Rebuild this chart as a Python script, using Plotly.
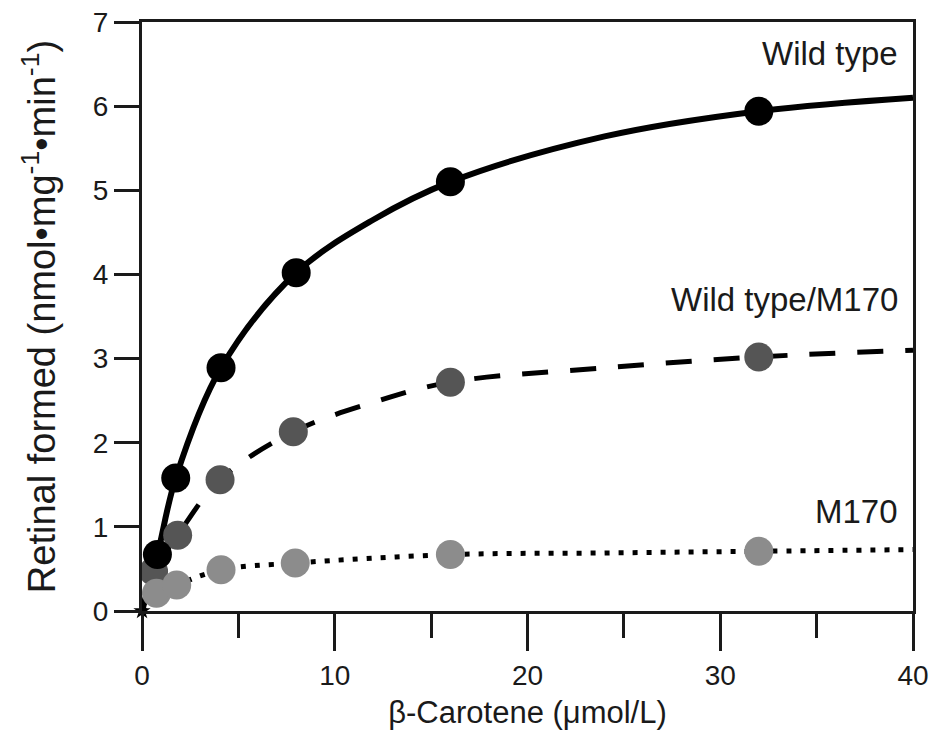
import plotly.graph_objects as go

# Measured data points
wt_x = [0.8, 1.75, 4.1, 8, 16, 32]
wt_y = [0.67, 1.58, 2.89, 4.02, 5.10, 5.94]

mix_x = [0.6, 1.85, 4.05, 7.85, 16, 32]
mix_y = [0.47, 0.90, 1.56, 2.13, 2.72, 3.02]

m170_x = [0.75, 1.8, 4.1, 7.95, 16, 32]
m170_y = [0.21, 0.31, 0.49, 0.57, 0.67, 0.71]

origin_x = [0]
origin_y = [0]

# Fitted curves
wt_fit_x = [0, 0.8, 1.75, 4.1, 8, 12, 16, 24, 32, 40]
wt_fit_y = [0, 0.67, 1.58, 2.89, 4.02, 4.65, 5.10, 5.64, 5.94, 6.10]

mix_fit_x = [0, 0.6, 1.85, 4.05, 7.85, 12, 16, 24, 32, 40]
mix_fit_y = [0, 0.47, 0.90, 1.56, 2.13, 2.48, 2.72, 2.89, 3.02, 3.10]

m170_fit_x = [0, 0.75, 1.8, 4.1, 7.95, 16, 24, 32, 40]
m170_fit_y = [0, 0.21, 0.31, 0.49, 0.57, 0.67, 0.69, 0.71, 0.73]

x_ticks = [0, 10, 20, 30, 40]
x_minor = [5, 15, 25, 35]
y_ticks = [0, 1, 2, 3, 4, 5, 6, 7]

labels = ["Wild type", "Wild type/M170", "M170"]
label_y = [6.63, 3.70, 1.18]

FONT = "Liberation Sans, Arial, Helvetica, sans-serif"
INK = "#1a1a1a"

fig = go.Figure()

fig.add_trace(go.Scatter(x=wt_fit_x, y=wt_fit_y, mode="lines",
                         line=dict(color="black", width=6, shape="spline", smoothing=1.0),
                         showlegend=False, hoverinfo="skip"))
fig.add_trace(go.Scatter(x=mix_fit_x, y=mix_fit_y, mode="lines",
                         line=dict(color="black", width=5, shape="spline", smoothing=1.0,
                                   dash="26px,22px"),
                         showlegend=False, hoverinfo="skip"))
fig.add_trace(go.Scatter(x=m170_fit_x, y=m170_fit_y, mode="lines",
                         line=dict(color="black", width=5, shape="spline", smoothing=1.0,
                                   dash="5px,9px"),
                         showlegend=False, hoverinfo="skip"))

fig.add_trace(go.Scatter(x=mix_x, y=mix_y, mode="markers", name="Wild type/M170",
                         marker=dict(size=29, color="#555555"), showlegend=False))
fig.add_trace(go.Scatter(x=wt_x, y=wt_y, mode="markers", name="Wild type",
                         marker=dict(size=29, color="black"), showlegend=False))
fig.add_trace(go.Scatter(x=m170_x, y=m170_y, mode="markers", name="M170",
                         marker=dict(size=29, color="#8c8c8c"), showlegend=False))
fig.add_trace(go.Scatter(x=origin_x, y=origin_y, mode="markers",
                         marker=dict(size=13, color="black", symbol="star"),
                         showlegend=False, cliponaxis=False))

for text, yv in zip(labels, label_y):
    fig.add_annotation(x=40, y=yv, xref="x", yref="y", text=text, showarrow=False,
                       xanchor="right", yanchor="middle", xshift=-13,
                       font=dict(family=FONT, size=33, color=INK))

fig.update_layout(
    width=933, height=748,
    margin=dict(l=142, r=20, t=22, b=137, autoexpand=False),
    paper_bgcolor="white", plot_bgcolor="white",
    font=dict(family=FONT, color=INK),
    xaxis=dict(range=[0, 40], tickvals=x_ticks, ticktext=[str(v) for v in x_ticks],
               ticks="outside", ticklen=37, tickwidth=3, tickcolor=INK,
               showline=True, linewidth=3, linecolor=INK, mirror=True,
               showgrid=False, zeroline=False, automargin=False,
               tickfont=dict(family=FONT, size=28, color=INK),
               minor=dict(tickvals=x_minor, ticks="outside", ticklen=24,
                          tickwidth=3, tickcolor=INK, showgrid=False),
               title=dict(text="β-Carotene (μmol/L)", standoff=12,
                          font=dict(family=FONT, size=31, color=INK))),
    yaxis=dict(range=[0, 7], tickvals=y_ticks, ticktext=[str(v) for v in y_ticks],
               ticks="outside", ticklen=25, tickwidth=3, tickcolor=INK,
               showline=True, linewidth=3, linecolor=INK, mirror=True,
               showgrid=False, zeroline=False, automargin=False,
               tickfont=dict(family=FONT, size=28, color=INK),
               title=dict(text="Retinal formed (nmol•mg<sup>-1</sup>•min<sup>-1</sup>)",
                          standoff=26,
                          font=dict(family=FONT, size=38, color=INK))),
)

fig.write_html("out.html")
